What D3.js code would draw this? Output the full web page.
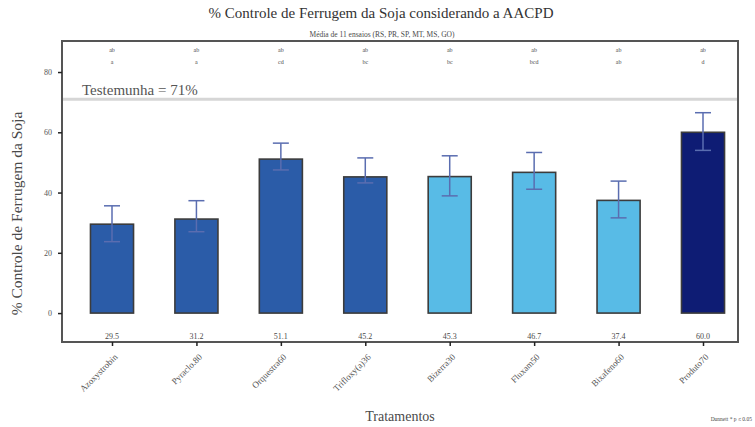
<!DOCTYPE html>
<html>
<head>
<meta charset="utf-8">
<script src="https://cdn.jsdelivr.net/npm/d3@7"></script>
<style>
  html, body { margin: 0; padding: 0; background: #fff; }
  svg { display: block; }
  svg text { font-family: "Liberation Serif", "DejaVu Serif", serif; }
</style>
</head>
<body>
<svg id="chart" width="755" height="427"></svg>
<script>
// Treatments and their mean % rust control
const treatments = ["Azoxystrobin", "Pyraclo.80", "Orquestra60", "Trifloxy(a)36",
                    "Bizerra30", "Fluxam50", "Bixafeno60", "Produto70"];
const control = [29.5, 31.2, 51.1, 45.2, 45.3, 46.7, 37.4, 60.0];
const lower = [23.7, 27.0, 47.5, 43.2, 38.9, 41.1, 31.6, 54.0];
const upper = [35.6, 37.3, 56.4, 51.5, 52.2, 53.3, 43.8, 66.5];
const groupTop = ["ab", "ab", "ab", "ab", "ab", "ab", "ab", "ab"];
const groupBottom = ["a", "a", "cd", "bc", "bc", "bcd", "ab", "d"];
const barGroup = ["mid", "mid", "mid", "mid", "light", "light", "light", "dark"];
const yTicks = [0, 20, 40, 60, 80];
const checkValue = 71;

const colors = { mid: "#2b5ca8", light: "#58bbe6", dark: "#0e1c74" };
const serif = "Liberation Serif, DejaVu Serif, serif";

const svg = d3.select("#chart");
const panel = { left: 62, right: 738, top: 41, bottom: 342 };

const x = d3.scalePoint().domain(treatments).range([112, 703]);
const step = x.step();
const barW = step * 0.51;
const y = d3.scaleLinear().domain([-9.6, 90.3]).range([panel.bottom, panel.top]);

function txt(sel) {
  return sel.attr("font-family", serif).attr("fill", "#4a4a4a");
}

// Titles
txt(svg.append("text")).attr("x", 381).attr("y", 18).attr("text-anchor", "middle")
  .attr("font-size", 15).attr("fill", "#333")
  .text("% Controle de Ferrugem da Soja considerando a AACPD");
txt(svg.append("text")).attr("x", 382).attr("y", 36.5).attr("text-anchor", "middle")
  .attr("font-size", 7.5)
  .text("Média de 11 ensaios (RS, PR, SP, MT, MS, GO)");

// Reference line for the untreated check
svg.append("line")
  .attr("x1", panel.left).attr("x2", panel.right)
  .attr("y1", y(checkValue)).attr("y2", y(checkValue))
  .attr("stroke", "#d6d6d6").attr("stroke-width", 3);
txt(svg.append("text")).attr("x", 82).attr("y", y(checkValue) - 4)
  .attr("font-size", 15).attr("fill", "#555")
  .text("Testemunha = " + checkValue + "%");

const data = treatments.map((t, i) => ({
  t, v: control[i], lo: lower[i], hi: upper[i],
  g1: groupTop[i], g2: groupBottom[i], c: colors[barGroup[i]]
}));

// Bars
svg.append("g").selectAll("rect").data(data).join("rect")
  .attr("x", d => x(d.t) - barW / 2)
  .attr("width", barW)
  .attr("y", d => y(d.v))
  .attr("height", d => y(0) - y(d.v))
  .attr("fill", d => d.c)
  .attr("stroke", "#3c3c3c").attr("stroke-width", 1.6);

// Error bars
const eb = svg.append("g").attr("stroke", "#5a6db0").attr("stroke-width", 1.5);
const capW = 16;
data.forEach(d => {
  eb.append("line").attr("x1", x(d.t)).attr("x2", x(d.t)).attr("y1", y(d.lo)).attr("y2", y(d.hi));
  eb.append("line").attr("x1", x(d.t) - capW / 2).attr("x2", x(d.t) + capW / 2).attr("y1", y(d.hi)).attr("y2", y(d.hi));
  eb.append("line").attr("x1", x(d.t) - capW / 2).attr("x2", x(d.t) + capW / 2).attr("y1", y(d.lo)).attr("y2", y(d.lo));
});

// Value labels under bars
txt(svg.append("g").selectAll("text").data(data).join("text"))
  .attr("x", d => x(d.t)).attr("y", panel.bottom - 3)
  .attr("text-anchor", "middle").attr("font-size", 8)
  .text(d => d.v.toFixed(1));

// Statistical group letters
txt(svg.append("g").selectAll("text").data(data).join("text"))
  .attr("x", d => x(d.t)).attr("y", 52)
  .attr("text-anchor", "middle").attr("font-size", 6)
  .text(d => d.g1);
txt(svg.append("g").selectAll("text").data(data).join("text"))
  .attr("x", d => x(d.t)).attr("y", 64)
  .attr("text-anchor", "middle").attr("font-size", 6)
  .text(d => d.g2);

// Panel frame
svg.append("rect")
  .attr("x", panel.left).attr("y", panel.top)
  .attr("width", panel.right - panel.left).attr("height", panel.bottom - panel.top)
  .attr("fill", "none").attr("stroke", "#555").attr("stroke-width", 2);

// Y axis
const yAxis = svg.append("g").attr("transform", `translate(${panel.left},0)`)
  .call(d3.axisLeft(y).tickValues(yTicks).tickSize(4).tickPadding(6));
yAxis.attr("font-family", serif);
yAxis.select(".domain").remove();
yAxis.selectAll("line").attr("stroke", "#222").attr("stroke-width", 1.5);
yAxis.selectAll("text").attr("font-size", 8).attr("fill", "#555");

// X axis
const xAxis = svg.append("g").attr("transform", `translate(0,${panel.bottom})`)
  .call(d3.axisBottom(x).tickSize(4).tickPadding(4));
xAxis.attr("font-family", serif);
xAxis.select(".domain").remove();
xAxis.selectAll("line").attr("stroke", "#222").attr("stroke-width", 1.5);
xAxis.selectAll("text")
  .attr("font-size", 9).attr("fill", "#555")
  .attr("text-anchor", "end")
  .attr("dy", 0)
  .attr("transform", "translate(0,10) rotate(-45)");

// Axis titles
txt(svg.append("text"))
  .attr("transform", `translate(22,${(panel.top + panel.bottom) / 2 + 22}) rotate(-90)`)
  .attr("text-anchor", "middle").attr("font-size", 15.5)
  .text("% Controle de Ferrugem da Soja");
txt(svg.append("text")).attr("x", 400).attr("y", 421).attr("text-anchor", "middle")
  .attr("font-size", 14)
  .text("Tratamentos");

// Footnote
txt(svg.append("text")).attr("x", 752).attr("y", 421).attr("text-anchor", "end")
  .attr("font-size", 5.5)
  .text("Dunnett * p ≤ 0.05");
</script>
</body>
</html>
